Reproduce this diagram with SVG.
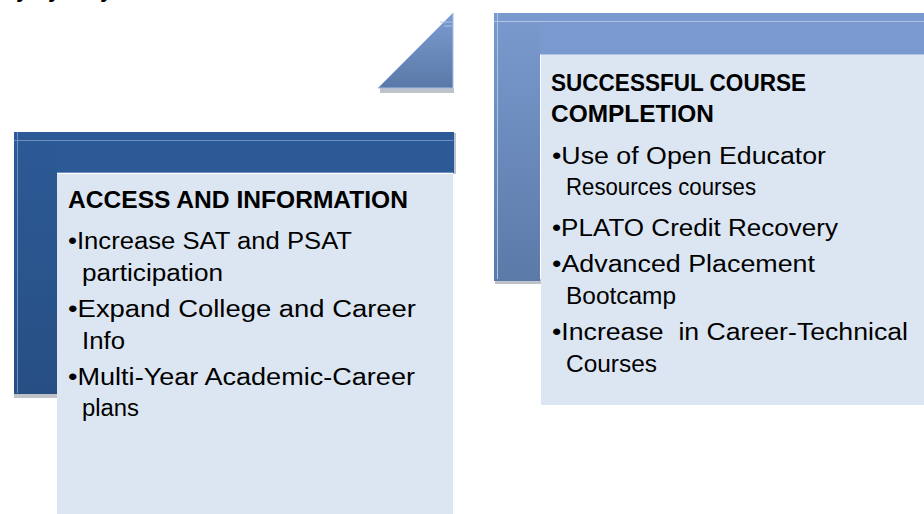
<svg xmlns="http://www.w3.org/2000/svg" width="924" height="514" viewBox="0 0 924 514">
  <defs>
    <linearGradient id="gradMid" x1="0" y1="0" x2="0" y2="1">
      <stop offset="0" stop-color="#7C9CD1"/>
      <stop offset="1" stop-color="#5A79A8"/>
    </linearGradient>
    <linearGradient id="gradSide" x1="0" y1="0" x2="0" y2="1">
      <stop offset="0" stop-color="#7A9ACF"/>
      <stop offset="1" stop-color="#5C7AA8"/>
    </linearGradient>
    <linearGradient id="gradDark" x1="0" y1="0" x2="0" y2="1">
      <stop offset="0" stop-color="#2C5A96"/>
      <stop offset="1" stop-color="#274F84"/>
    </linearGradient>
    <style>
      .box { fill: #DCE6F2; }
      .title { font-family: "Liberation Sans", Arial, sans-serif; font-weight: bold; font-size: 23px; fill: #000; }
      .item { font-family: "Liberation Sans", Arial, sans-serif; font-size: 23px; fill: #000; white-space: pre; }
      .hl-dark { stroke: #6F8FC0; stroke-width: 1; fill: none; }
      .hl-light { stroke: #AFC3E6; stroke-width: 1; fill: none; }
      .shade { fill: #BFC3C9; }
      .cut { font-family: "Liberation Sans", Arial, sans-serif; font-weight: bold; font-style: italic; font-size: 22px; fill: #000; }
    </style>
  </defs>

  <rect width="924" height="514" fill="#FFFFFF"/>

  <!-- descenders of a heading line running off the top edge -->
  <g id="heading-fragment">
    <text class="cut" x="18" y="-3">y</text>
    <text class="cut" x="50" y="-3">y</text>
    <text class="cut" x="102" y="-3">y</text>
  </g>

  <!-- connector: rising triangle between the two stages -->
  <g id="connectors">
    <rect class="shade" x="380" y="88" width="74" height="5"/>
    <polygon points="378,88 453,13 453,88" fill="url(#gradMid)" stroke="#A9BEE2" stroke-width="1"/>
    <line class="hl-light" x1="440" y1="22" x2="452" y2="22"/>
    <line class="hl-light" x1="444" y1="26" x2="452" y2="26"/>
  </g>

  <!-- stage 1: access and information -->
  <g id="node-access">
    <rect class="shade" x="14" y="393" width="44" height="5"/>
    <rect class="shade" x="453" y="133" width="3" height="41"/>
    <rect x="14" y="132" width="440" height="41" fill="#2C5A96"/>
    <rect x="14" y="132" width="43" height="262" fill="url(#gradDark)"/>
    <line class="hl-dark" x1="14" y1="140.5" x2="453" y2="140.5"/>
    <line class="hl-dark" x1="57" y1="172.5" x2="453" y2="172.5"/>
    <line class="hl-dark" x1="17.5" y1="132" x2="17.5" y2="393"/>
    <rect class="box" x="57" y="174" width="396" height="340"/>
    <text class="title" x="68" y="208" textLength="340" lengthAdjust="spacingAndGlyphs">ACCESS AND INFORMATION</text>
    <text class="item" x="68" y="249" textLength="284" lengthAdjust="spacingAndGlyphs">•Increase SAT and PSAT</text>
    <text class="item" x="82" y="281" textLength="141" lengthAdjust="spacingAndGlyphs">participation</text>
    <text class="item" x="68" y="317" textLength="348" lengthAdjust="spacingAndGlyphs">•Expand College and Career</text>
    <text class="item" x="82" y="349" textLength="43" lengthAdjust="spacingAndGlyphs">Info</text>
    <text class="item" x="68" y="385" textLength="347" lengthAdjust="spacingAndGlyphs">•Multi-Year Academic-Career</text>
    <text class="item" x="82" y="416" textLength="57" lengthAdjust="spacingAndGlyphs">plans</text>
  </g>

  <!-- stage 2: successful course completion -->
  <g id="node-completion">
    <rect class="shade" x="495" y="279" width="46" height="5"/>
    <rect x="494" y="13" width="430" height="42" fill="#7A9ACF"/>
    <rect x="494" y="13" width="46" height="268" fill="url(#gradSide)"/>
    <line class="hl-light" x1="494" y1="21.5" x2="924" y2="21.5"/>
    <line class="hl-light" x1="540" y1="54.5" x2="924" y2="54.5"/>
    <line class="hl-light" x1="497.5" y1="13" x2="497.5" y2="279"/>
    <rect class="box" x="541" y="55" width="383" height="350"/>
    <text class="title" x="551" y="91" textLength="255" lengthAdjust="spacingAndGlyphs">SUCCESSFUL COURSE</text>
    <text class="title" x="551" y="122" textLength="163" lengthAdjust="spacingAndGlyphs">COMPLETION</text>
    <text class="item" x="552" y="164" textLength="274" lengthAdjust="spacingAndGlyphs">•Use of Open Educator</text>
    <text class="item" x="566" y="195" textLength="190" lengthAdjust="spacingAndGlyphs">Resources courses</text>
    <text class="item" x="552" y="236" textLength="286" lengthAdjust="spacingAndGlyphs">•PLATO Credit Recovery</text>
    <text class="item" x="552" y="272" textLength="263" lengthAdjust="spacingAndGlyphs">•Advanced Placement</text>
    <text class="item" x="566" y="304" textLength="110" lengthAdjust="spacingAndGlyphs">Bootcamp</text>
    <text class="item" x="552" y="340" textLength="356" lengthAdjust="spacingAndGlyphs">•Increase  in Career-Technical</text>
    <text class="item" x="566" y="372" textLength="91" lengthAdjust="spacingAndGlyphs">Courses</text>
  </g>
</svg>
